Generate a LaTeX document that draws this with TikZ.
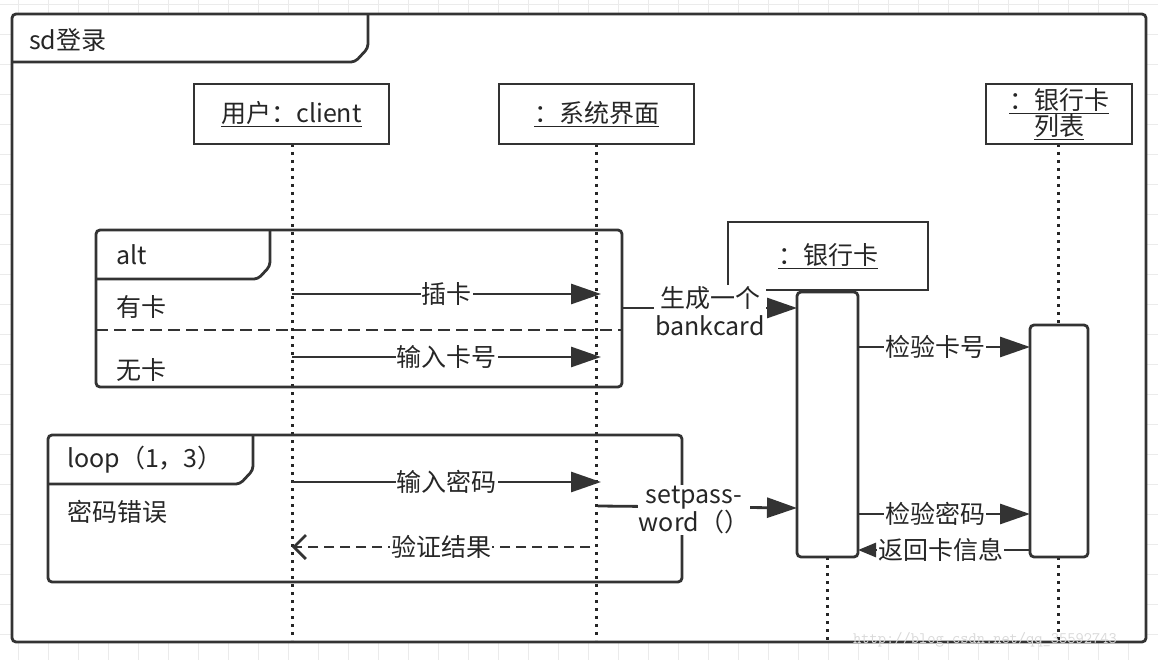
\documentclass[tikz,border=0pt]{standalone}
\usepackage{fontspec}
\setmainfont{Noto Sans CJK SC}
\usetikzlibrary{arrows.meta}
\begin{document}
\begin{tikzpicture}[x=1pt,y=-1pt,
  box/.style={draw=black!80,line width=2.8pt,fill=white},
  fr/.style={draw=black!80,line width=2.8pt,rounded corners=4pt},
  life/.style={draw=black!85,line width=3pt,dash pattern=on 3pt off 5pt},
  txt/.style={font=\fontsize{25}{28}\selectfont,text=black!85,inner sep=1pt},
  msg/.style={draw=black!80,line width=2.8pt,-{Triangle[length=30pt,width=20pt]}},
  ret/.style={draw=black!80,line width=2.8pt,dash pattern=on 10pt off 6pt,-{Straight Barb[length=12pt,width=24pt]}},
  lab/.style={txt,fill=white}]
\useasboundingbox (0,0) rectangle (1158,660);
\fill[white] (0,0) rectangle (1158,660);
\foreach \i in {0,30,...,1158} \draw[black!8,line width=0.8pt] (\i+18,0) -- (\i+18,660);
\foreach \i in {0,30,...,660} \draw[black!8,line width=0.8pt] (0,\i+4) -- (1158,\i+4);
% outer frame
\draw[fr,fill=white] (12,14) rectangle (1146,642);
\draw[fr] (12,62) -- (355,62) -- (368,48) -- (368,14);
\node[txt,anchor=west] (title) at (28,40) {sd登录};
% lifelines
\draw[life] (292,144) -- (292,640);
\draw[life] (596,144) -- (596,640);
\draw[life] (1058,144) -- (1058,325);
\draw[life] (1058,557) -- (1058,640);
\draw[life] (827,557) -- (827,640);
% heads
\node[box,minimum width=195pt,minimum height=60pt,txt,draw=black!80,line width=2.8pt] (cl) at (291.5,114) {\underline{用户：client}};
\node[box,minimum width=195pt,minimum height=60pt,txt,draw=black!80,line width=2.8pt] (ui) at (596.5,114) {\underline{：系统界面}};
\node[box,minimum width=146pt,minimum height=60pt,draw=black!80,line width=2.8pt,align=center,font=\fontsize{25}{25}\selectfont,text=black!85,inner sep=0pt] (list) at (1059,114) {\underline{：银行卡}\\\underline{列表}};
\node[box,minimum width=200pt,minimum height=68pt,txt,draw=black!80,line width=2.8pt] (card) at (828,256) {\underline{：银行卡}};
% activations
\draw[box,rounded corners=4pt] (797,292) rectangle (858,557);
\draw[box,rounded corners=4pt] (1030,325) rectangle (1088,557);
% alt frame
\draw[fr] (96,230) rectangle (622,387);
\draw[fr] (96,279) -- (258,279) -- (270,266) -- (270,230);
\draw[draw=black!80,line width=2.8pt,dash pattern=on 12pt off 6pt] (96,330) -- (622,330);
\node[txt,anchor=west] (alt) at (115,255) {alt};
\node[txt,anchor=west] (yk) at (115,307) {有卡};
\node[txt,anchor=west] (wk) at (115,370) {无卡};
% loop frame
\draw[fr] (48,435) rectangle (682,582);
\draw[fr] (48,484) -- (240,484) -- (253,470) -- (253,435);
\node[txt,anchor=west] (loop) at (66,460) {loop（1，3）};
\node[txt,anchor=west] (mm) at (66,512) {密码错误};
% messages
\coordinate (m1a) at (292,294); \coordinate (m1b) at (601,294);
\draw[msg] (m1a) -- node[lab] {插卡} (m1b);
\coordinate (m2a) at (292,357); \coordinate (m2b) at (601,357);
\draw[msg] (m2a) -- node[lab] {输入卡号} (m2b);
\coordinate (m3a) at (622,308); \coordinate (m3b) at (797,308);
\draw[msg] (m3a) -- (m3b);
\node[lab,align=center] (m3l) at (710,311) {生成一个\\bankcard};
\coordinate (m4a) at (292,482); \coordinate (m4b) at (601,482);
\draw[msg] (m4a) -- node[lab] {输入密码} (m4b);
\coordinate (m5a) at (590,547); \coordinate (m5b) at (292,547);
\draw[ret] (m5a) -- node[lab] {验证结果} (m5b);
\coordinate (m6a) at (598,506); \coordinate (m6b) at (797,508);
\draw[msg] (m6a) -- (m6b);
\node[lab,align=center,fill=white] (m6l) at (694,510) {setpass-\\word（）};
\coordinate (m7a) at (858,347); \coordinate (m7b) at (1030,347);
\draw[msg] (m7a) -- node[lab,pos=0.45] {检验卡号} (m7b);
\coordinate (m8a) at (858,514); \coordinate (m8b) at (1030,514);
\draw[msg] (m8a) -- node[lab,pos=0.45] {检验密码} (m8b);
\coordinate (m9a) at (1030,550); \coordinate (m9b) at (858,550);
\draw[draw=black!80,line width=2.8pt,-{Triangle[length=18pt,width=14pt]}] (m9a) -- node[lab,pos=0.52] {返回卡信息} (m9b);
\node[font=\fontsize{16}{16}\selectfont\ttfamily,text=black!15] (wm) at (985,640) {http://blog.csdn.net/qq\_35592743};
\end{tikzpicture}
\end{document}
